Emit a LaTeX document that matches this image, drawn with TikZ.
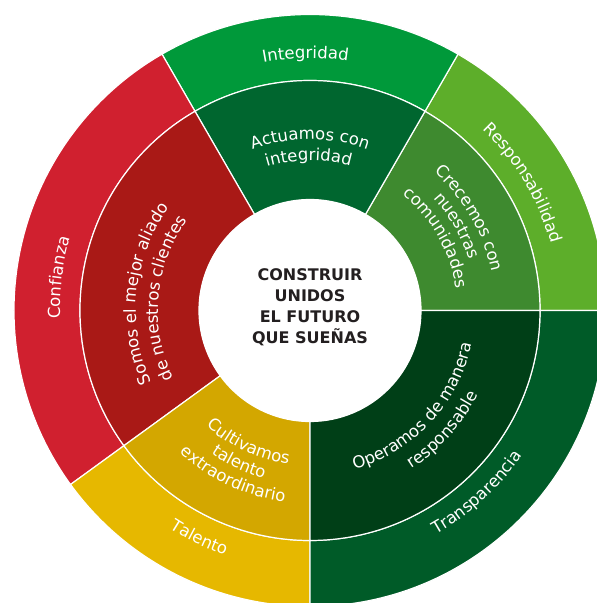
\documentclass[tikz,border=0pt]{standalone}
\usepackage{fontspec}
\setmainfont{DejaVu Sans}
\usetikzlibrary{decorations.text}
\definecolor{cInt}{RGB}{0,153,58}
\definecolor{cAct}{RGB}{0,102,47}
\definecolor{cResp}{RGB}{93,174,42}
\definecolor{cCrec}{RGB}{62,138,47}
\definecolor{cTrans}{RGB}{0,91,40}
\definecolor{cOper}{RGB}{0,63,23}
\definecolor{cTal}{RGB}{230,184,0}
\definecolor{cCult}{RGB}{211,167,0}
\definecolor{cConf}{RGB}{208,32,47}
\definecolor{cSomos}{RGB}{169,25,22}
\definecolor{cCore}{RGB}{35,31,32}
\newcommand\lfs{\fontsize{12.4}{15}\selectfont}
% clockwise label (tops outward): angle, radius, text
\newcommand\cwlabel[3]{%
  \path[decorate, decoration={text along path, text align=center, text color=white, text={|\lfs|#3}}]
    ({#1+60}:#2) arc[start angle={#1+60}, end angle={#1-60}, radius=#2];}
% counter-clockwise label (tops inward): angle, radius, text
\newcommand\ccwlabel[3]{%
  \path[decorate, decoration={text along path, text align=center, text color=white, text={|\lfs|#3}}]
    ({#1-60}:#2) arc[start angle={#1-60}, end angle={#1+60}, radius=#2];}
\begin{document}
\begin{tikzpicture}[x=0.75pt, y=0.75pt,
  seg/.style={draw=white, line width=0.9pt},
  core/.style={font=\fontsize{12}{15.6}\selectfont\bfseries, text=cCore, align=center}]
\useasboundingbox (-310,-292.5) rectangle (286,310.5);
\def\ra{111}\def\rb{230}\def\rc{296}
% outer ring
\foreach \a/\b/\c in {0/60/cResp, 60/120/cInt, 120/216/cConf, 216/270/cTal, 270/360/cTrans}{
  \filldraw[fill=\c, seg] (\a:\rc) arc[start angle=\a, end angle=\b, radius=\rc]
    -- (\b:\rb) arc[start angle=\b, end angle=\a, radius=\rb] -- cycle;
}
% inner ring
\foreach \a/\b/\c in {0/60/cCrec, 60/120/cAct, 120/216/cSomos, 216/270/cCult, 270/360/cOper}{
  \filldraw[fill=\c, seg] (\a:\rb) arc[start angle=\a, end angle=\b, radius=\rb]
    -- (\b:\ra) arc[start angle=\b, end angle=\a, radius=\ra] -- cycle;
}
\fill[white] (0,0) circle[radius=\ra];
\node[core] (core) at (0,3.2) {CONSTRUIR\\UNIDOS\\EL FUTURO\\QUE SUEÑAS};
% outer labels
\cwlabel{91}{252}{Integridad}
\cwlabel{31}{250}{Responsabilidad}
\cwlabel{172.5}{250}{Confianza}
\ccwlabel{244}{259}{Talento}
\ccwlabel{312.5}{257}{Transparencia}
% inner labels
\cwlabel{90}{171}{Actuamos con}
\cwlabel{90.5}{150}{integridad}
\cwlabel{30}{186}{Crecemos con}
\cwlabel{30}{167}{nuestras}
\cwlabel{30}{148}{comunidades}
\cwlabel{174}{174}{Somos el mejor aliado}
\cwlabel{175}{152}{de nuestros clientes}
\ccwlabel{245}{155}{Cultivamos}
\ccwlabel{245}{174}{talento}
\ccwlabel{245}{193}{extraordinario}
\ccwlabel{317}{165}{Operamos de manera}
\ccwlabel{318}{188}{responsable}
\end{tikzpicture}
\end{document}
